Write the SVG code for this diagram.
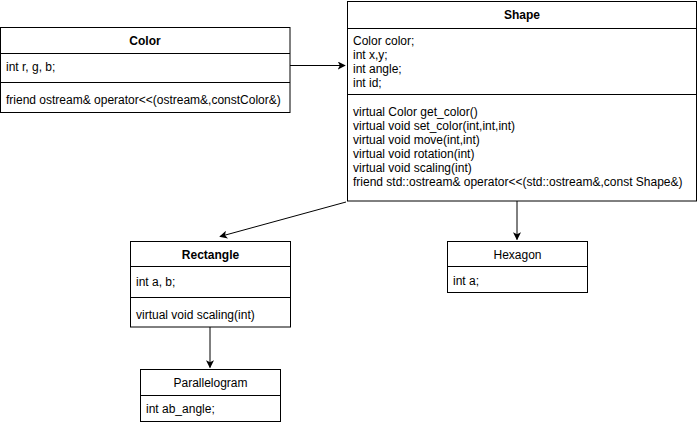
<svg xmlns="http://www.w3.org/2000/svg" width="698" height="425" viewBox="0 0 698 425">
<style>
.box{fill:#fff;stroke:#000;stroke-width:1}
.div{stroke:#000;stroke-width:1}
text{font-family:"Liberation Sans",Arial,sans-serif;font-size:12px;fill:#000}
.title{font-weight:bold;text-anchor:middle}
.ctitle{text-anchor:middle}
.edge{stroke:#000;stroke-width:1;fill:none;marker-end:url(#arr)}
</style>
<defs>
<marker id="arr" viewBox="0 0 10 10" refX="9" refY="5" markerWidth="8" markerHeight="8" markerUnits="userSpaceOnUse" orient="auto">
<path d="M0,0 L10,5 L0,10 L2.5,5 Z" fill="#000"/>
</marker>
</defs>
<rect width="698" height="425" fill="#fff"/>
<g id="connectors">
<line class="edge" x1="290" y1="65.5" x2="345" y2="65.5"/>
<line class="edge" x1="346" y1="202" x2="220" y2="236.5"/>
<line class="edge" x1="517" y1="201" x2="517" y2="239.5"/>
<line class="edge" x1="210" y1="327" x2="210" y2="367.5"/>
</g>
<g id="Color">
<rect class="box" x="0.5" y="27.5" width="289.5" height="85"/>
<line class="div" x1="0.5" y1="53.5" x2="290" y2="53.5"/>
<line class="div" x1="0.5" y1="82.5" x2="290" y2="82.5"/>
<text class="title" x="145" y="45">Color</text>
<text x="6" y="71">int r, g, b;</text>
<text x="6" y="104">friend ostream&amp; operator&lt;&lt;(ostream&amp;,constColor&amp;)</text>
</g>
<g id="Shape">
<rect class="box" x="347.5" y="1.5" width="349" height="199.5"/>
<line class="div" x1="347.5" y1="28.5" x2="696.5" y2="28.5"/>
<line class="div" x1="347.5" y1="94.5" x2="696.5" y2="94.5"/>
<text class="title" x="522" y="19">Shape</text>
<text x="353" y="45">Color color;</text>
<text x="353" y="59">int x,y;</text>
<text x="353" y="73">int angle;</text>
<text x="353" y="87">int id;</text>
<text x="353" y="116">virtual Color get_color()</text>
<text x="353" y="130">virtual void set_color(int,int,int)</text>
<text x="353" y="144">virtual void move(int,int)</text>
<text x="353" y="158">virtual void rotation(int)</text>
<text x="353" y="172">virtual void scaling(int)</text>
<text x="353" y="186">friend std::ostream&amp; operator&lt;&lt;(std::ostream&amp;,const Shape&amp;)</text>
</g>
<g id="Rectangle">
<rect class="box" x="130.5" y="241.5" width="160" height="85.5"/>
<line class="div" x1="130.5" y1="266.5" x2="290.5" y2="266.5"/>
<line class="div" x1="130.5" y1="297.5" x2="290.5" y2="297.5"/>
<text class="title" x="210.5" y="259">Rectangle</text>
<text x="136" y="286">int a, b;</text>
<text x="136" y="319">virtual void scaling(int)</text>
</g>
<g id="Hexagon">
<rect class="box" x="447.5" y="241.5" width="140" height="51"/>
<line class="div" x1="447.5" y1="266.5" x2="587.5" y2="266.5"/>
<text class="ctitle" x="517.5" y="259">Hexagon</text>
<text x="453" y="285">int a;</text>
</g>
<g id="Parallelogram">
<rect class="box" x="140.5" y="369.5" width="140" height="52"/>
<line class="div" x1="140.5" y1="395.5" x2="280.5" y2="395.5"/>
<text class="ctitle" x="210.5" y="387">Parallelogram</text>
<text x="146" y="413">int ab_angle;</text>
</g>
</svg>
